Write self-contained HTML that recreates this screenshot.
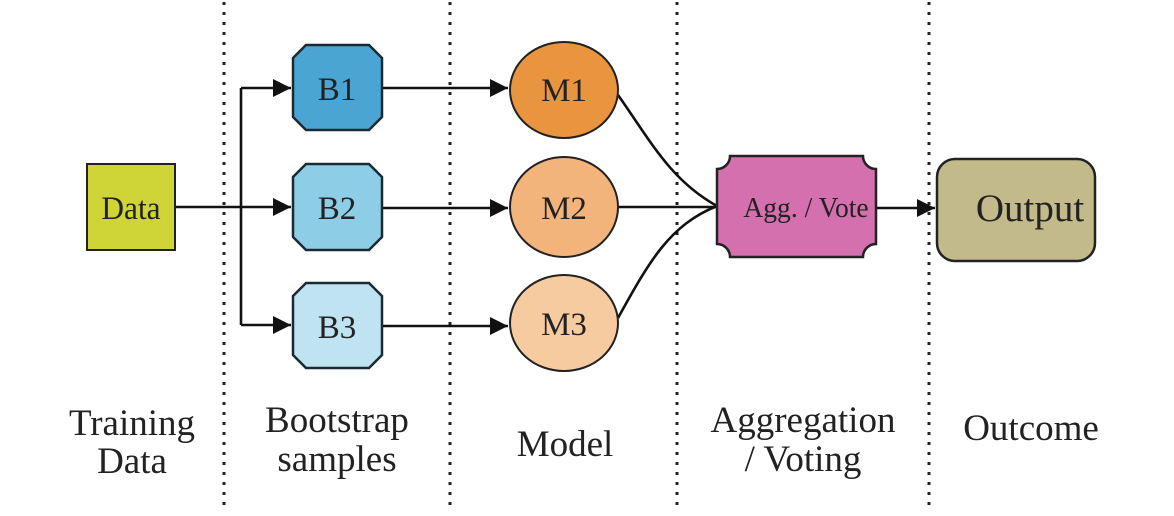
<!DOCTYPE html>
<html><head><meta charset="utf-8"><style>html,body{margin:0;padding:0;background:#fff}svg{display:block}</style></head>
<body>
<svg width="1174" height="516" viewBox="0 0 1174 516" xmlns="http://www.w3.org/2000/svg" font-family="'Liberation Serif', serif">
<defs>
<marker id="b" viewBox="0 0 10 10" refX="10" refY="5" markerWidth="20" markerHeight="18" orient="auto" markerUnits="userSpaceOnUse"><path d="M0,0 L10,5 L0,10 Z" fill="#111"/></marker></defs>
<g stroke="#222" stroke-width="3" stroke-dasharray="3 7">
<line x1="224" y1="2" x2="224" y2="506"/><line x1="450" y1="2" x2="450" y2="506"/><line x1="677" y1="2" x2="677" y2="506"/><line x1="929" y1="2" x2="929" y2="506"/>
</g>
<g stroke="#111" stroke-width="2.6" fill="none">
<path d="M175,207 L291,207" marker-end="url(#b)"/>
<path d="M241,88 L241,325"/>
<path d="M241,88 L291,88" marker-end="url(#b)"/>
<path d="M241,325 L291,325" marker-end="url(#b)"/>
<path d="M382,88 L508,88" marker-end="url(#b)"/>
<path d="M382,208 L508,208" marker-end="url(#b)"/>
<path d="M382,326 L508,326" marker-end="url(#b)"/>
<path d="M618,95 C650,140 670,180 717,206"/>
<path d="M618,207 L717,207"/>
<path d="M618,318 C650,260 670,225 717,206"/>
<path d="M876,208 L935,208" marker-end="url(#b)"/>
</g>
<rect x="87" y="164" width="88" height="86" fill="#cfd536" stroke="#222" stroke-width="2"/>
<text font-size="33" text-anchor="middle" fill="#222" transform="translate(131,219) scale(0.95,1)">Data</text>
<g stroke="#1a2a33" stroke-width="2.5">
<path d="M306,45 L369,45 L382,58 L382,117 L369,130 L306,130 L293,117 L293,58 Z" fill="#4ba5d2"/>
<path d="M306,164 L369,164 L382,177 L382,237 L369,250 L306,250 L293,237 L293,177 Z" fill="#8ecde6"/>
<path d="M306,283 L369,283 L382,296 L382,355 L369,368 L306,368 L293,355 L293,296 Z" fill="#bfe3f1"/>
</g>
<g font-size="33" text-anchor="middle" fill="#222">
<text x="337" y="100">B1</text><text x="337" y="219">B2</text><text x="337" y="338">B3</text>
</g>
<g stroke="#222" stroke-width="2">
<ellipse cx="564" cy="90" rx="54" ry="48" fill="#e9953f"/>
<ellipse cx="564" cy="207" rx="54" ry="50" fill="#f3b47c"/>
<ellipse cx="564" cy="323" rx="54" ry="48" fill="#f7cba0"/>
</g>
<g font-size="33" text-anchor="middle" fill="#222">
<text x="564" y="101">M1</text><text x="564" y="219">M2</text><text x="564" y="335">M3</text>
</g>
<path d="M730,156 L863,156 A13,13 0 0 0 876,169 L876,244 A13,13 0 0 0 863,257 L730,257 A13,13 0 0 0 717,244 L717,169 A13,13 0 0 0 730,156 Z" fill="#d470ad" stroke="#222" stroke-width="2.5"/>
<text font-size="29" text-anchor="middle" fill="#222" transform="translate(806,217) scale(0.95,1)">Agg. / Vote</text>
<rect x="937" y="159" width="158" height="102" rx="18" fill="#c3ba8b" stroke="#222" stroke-width="2.5"/>
<text font-size="39" text-anchor="middle" fill="#222" x="1030" y="221">Output</text>
<g font-size="37" text-anchor="middle" fill="#222">
<text x="132" y="435">Training</text><text x="132" y="473">Data</text>
<text x="337" y="432">Bootstrap</text><text x="337" y="471">samples</text>
<text x="565" y="456">Model</text>
<text x="803" y="432">Aggregation</text><text x="803" y="471">/ Voting</text>
<text x="1031" y="440">Outcome</text>
</g>
</svg>
</body></html>
